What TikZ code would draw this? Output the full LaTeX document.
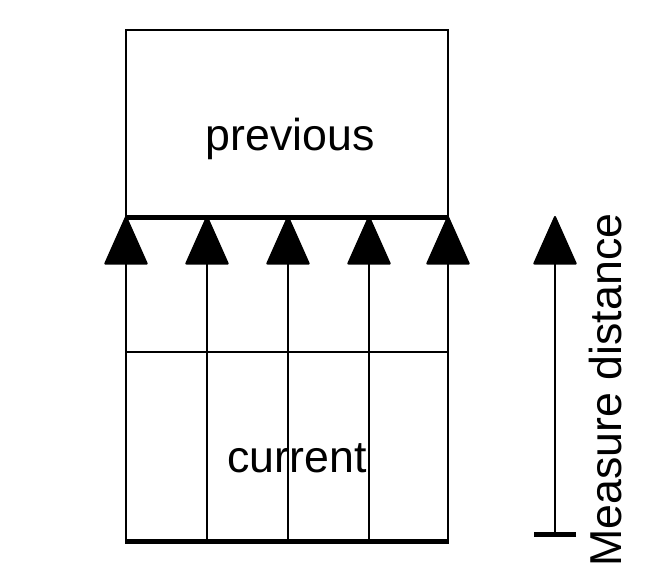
\documentclass[tikz,border=0pt]{standalone}
\usepackage{fontspec}
\setmainfont{Liberation Sans}
\usetikzlibrary{arrows.meta}

\begin{document}
\begin{tikzpicture}[x=1pt,y=-1pt,
        cell/.style={draw,line width=2pt,inner sep=0pt},
        lbl/.style={font=\fontsize{44.7}{54}\selectfont,inner sep=0pt},
        rule/.style={line width=5pt},
        push/.style={line width=2pt,-{Triangle[width=44pt,length=50pt,round]}}]
        \useasboundingbox (0,0) rectangle (664,586);

        \node[cell,minimum width=322pt,minimum height=186pt](prev)at(287,123){};
        \node[lbl](prevtext)at(290,139){previous};
        \draw[rule](prev.south west)--(prev.south east);

        \node[cell,minimum width=322pt,minimum height=188pt](cur)at(287,446){};
        \node[lbl](curtext)at(297,458){current};
        \draw[rule](cur.south west)--(cur.south east);

        \coordinate(b1)at(126,540); \coordinate(t1)at(126,216);
        \coordinate(b2)at(207,540); \coordinate(t2)at(207,216);
        \coordinate(b3)at(288,540); \coordinate(t3)at(288,216);
        \coordinate(b4)at(369,540); \coordinate(t4)at(369,216);
        \coordinate(b5)at(448,540); \coordinate(t5)at(448,216);
        \draw[push](b1)--(t1);
        \draw[push](b2)--(t2);
        \draw[push](b3)--(t3);
        \draw[push](b4)--(t4);
        \draw[push](b5)--(t5);

        \coordinate(m0)at(555,537); \coordinate(m1)at(555,216);
        \draw[push,{Bar[width=42pt,line width=5pt]}-{Triangle[width=44pt,length=50pt,round]}](m0)--(m1);
        \node[lbl,rotate=90](meas)at(606,390){Measure distance};
    \end{tikzpicture}
\end{document}
